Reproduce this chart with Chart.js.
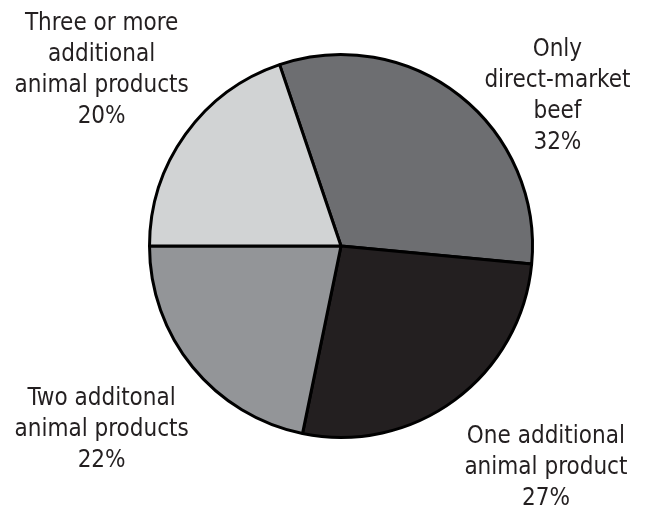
<!DOCTYPE html>
<html lang="en">
<head>
  <meta charset="UTF-8" />
  <title>Animal products pie</title>
  <script src="https://cdn.jsdelivr.net/npm/chart.js"></script>
  <style>
    html, body { margin: 0; padding: 0; background: #fff; }
    #wrap { width: 645px; height: 508px; }
  </style>
</head>
<body>
  <div id="wrap"><canvas id="pieChart"></canvas></div>
<script>
const categories = [
  ['Only', 'direct-market', 'beef'],
  ['One additional', 'animal product'],
  ['Two additonal', 'animal products'],
  ['Three or more', 'additional', 'animal products']
];
const shares = [32, 27, 22, 20];
const sliceColors = ['#6d6e71', '#231f20', '#939598', '#d1d3d4'];

// where each label block sits, in units of the pie radius from its centre
const labelSpots = [[1.13, -0.78], [1.07, 1.16], [-1.25, 0.96], [-1.25, -0.92]];

const outsideLabels = {
  id: 'outsideLabels',
  afterDraw(chart) {
    const ctx = chart.ctx;
    const arcs = chart.getDatasetMeta(0).data;
    ctx.save();
    ctx.fillStyle = '#231f20';
    ctx.font = '24px "DejaVu Sans Condensed", "DejaVu Sans"';
    ctx.textAlign = 'center';
    ctx.textBaseline = 'middle';
    const lh = 31;
    arcs.forEach((arc, i) => {
      const r = arc.outerRadius;
      const cx = arc.x + labelSpots[i][0] * r;
      const cy = arc.y + labelSpots[i][1] * r;
      const lines = categories[i].concat([shares[i] + '%']);
      const top = cy - (lines.length - 1) * lh / 2;
      lines.forEach((t, j) => ctx.fillText(t, cx, top + j * lh));
    });
    ctx.restore();
  }
};

new Chart(document.getElementById('pieChart'), {
  type: 'pie',
  data: {
    labels: categories.map(c => c.join(' ')),
    datasets: [{
      data: shares,
      backgroundColor: sliceColors,
      borderColor: '#000',
      borderWidth: 3
    }]
  },
  options: {
    responsive: true,
    maintainAspectRatio: false,
    animation: false,
    rotation: -18.7,
    layout: { padding: { left: 148, right: 111, top: 53, bottom: 69 } },
    plugins: {
      legend: { display: false },
      tooltip: { enabled: false }
    }
  },
  plugins: [outsideLabels]
});
</script>
</body>
</html>
